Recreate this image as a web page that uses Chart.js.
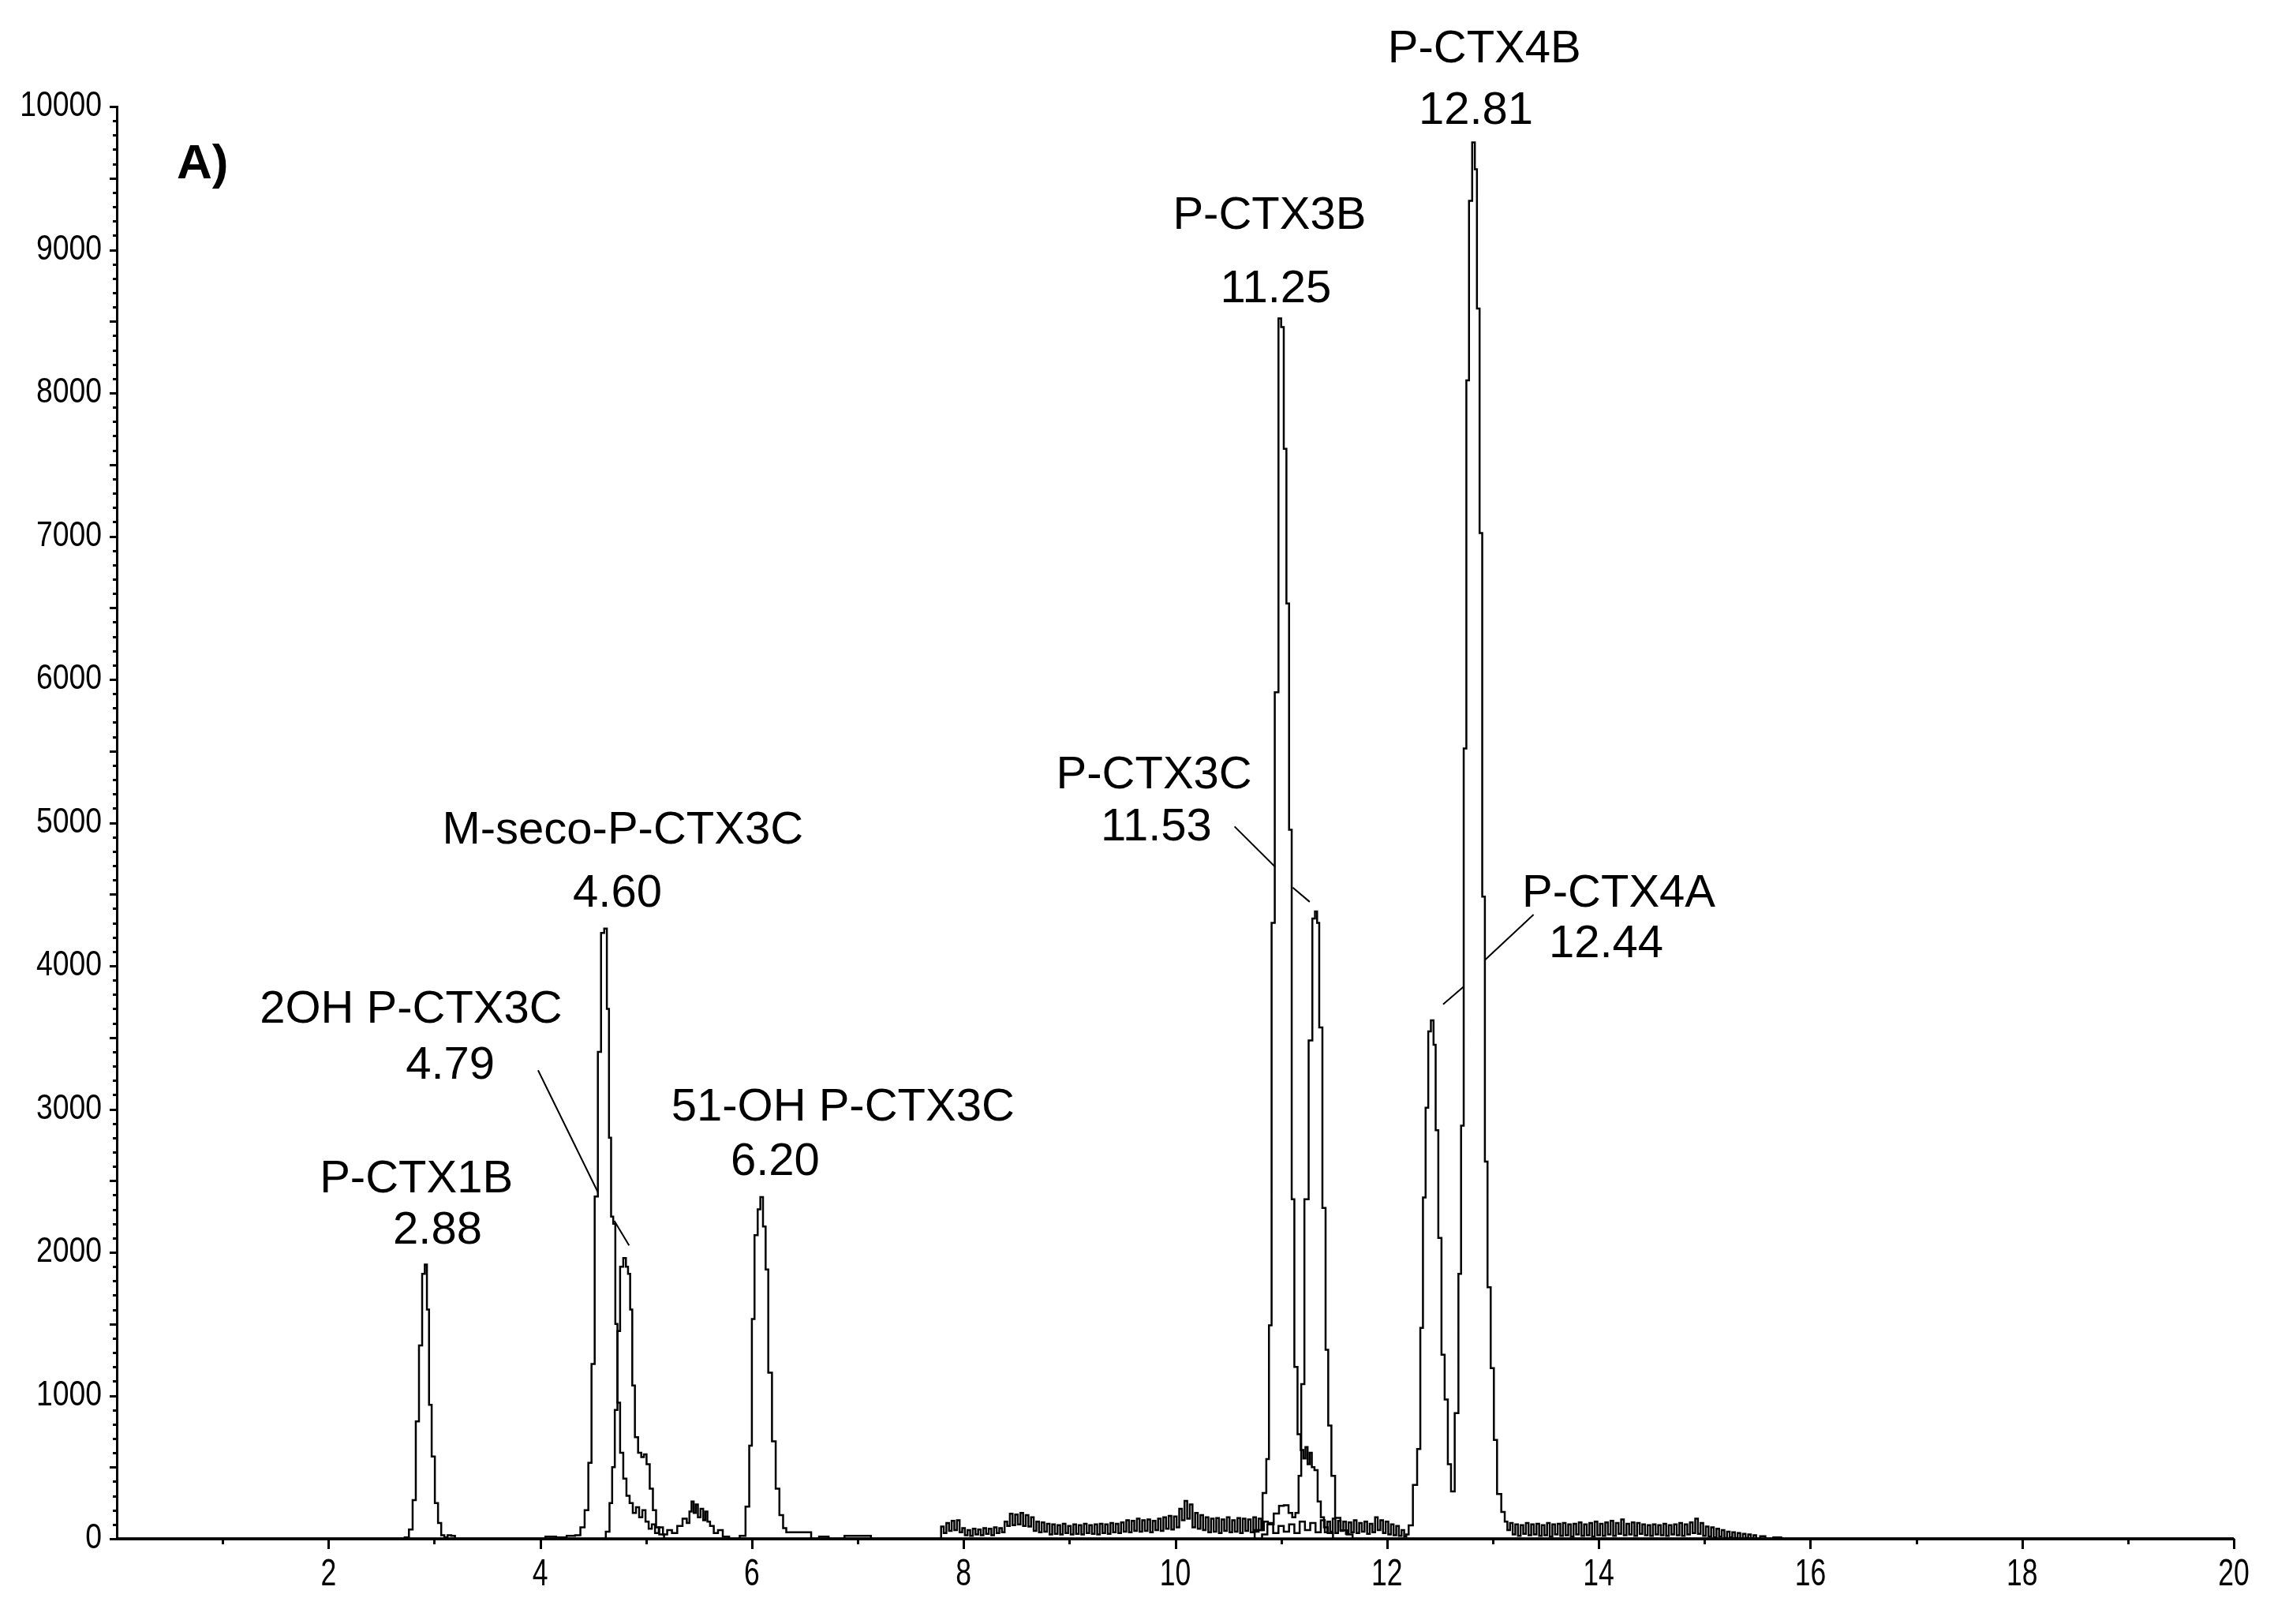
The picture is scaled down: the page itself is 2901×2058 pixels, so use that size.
<!DOCTYPE html>
<html>
<head>
<meta charset="utf-8">
<script src="https://cdn.jsdelivr.net/npm/chart.js@4.4.1/dist/chart.umd.min.js"></script>
<style>
  html, body { margin: 0; padding: 0; background: #fff; }
  #wrap { width: 2901px; height: 2058px; }
</style>
</head>
<body>
<div id="wrap"><canvas id="chrom"></canvas></div>
<script>
// [retention time (min), intensity], one trace per transition
const ctx1bTrace = [[0,0],[2.70,0],[2.74,10],[2.78,65],[2.81,270],[2.84,820],[2.87,1350],[2.90,1850],[2.92,1915],[2.94,1600],[2.96,935],[2.99,575],[3.02,250],[3.05,110],[3.08,25],[3.11,10],[3.14,25],[3.18,20],[3.21,0],[20,0]];

const msecoTrace = [[0,0],[4.00,0],[4.10,15],[4.20,10],[4.30,20],[4.36,25],[4.40,80],[4.44,200],[4.47,530],[4.50,1220],[4.53,2390],[4.56,3400],[4.59,4230],[4.62,4260],[4.64,3700],[4.66,2800],[4.68,2250],[4.70,2200],[4.72,1500],[4.74,950],[4.77,600],[4.80,420],[4.83,300],[4.86,250],[4.89,180],[4.92,220],[4.95,150],[4.98,200],[5.01,120],[5.04,70],[5.07,100],[5.10,40],[5.14,80],[5.18,30],[5.22,60],[5.27,40],[5.32,90],[5.37,140],[5.40,110],[5.42,190],[5.44,260],[5.46,180],[5.48,240],[5.50,150],[5.53,210],[5.55,130],[5.57,190],[5.59,120],[5.62,90],[5.66,40],[5.70,60],[5.75,15],[5.82,0],[20,0]];

const ohTrace = [[0,0],[4.60,0],[4.64,50],[4.67,250],[4.69,500],[4.72,900],[4.74,1450],[4.77,1900],[4.80,1960],[4.82,1900],[4.84,1850],[4.86,1600],[4.88,1070],[4.91,710],[4.94,600],[4.97,570],[4.99,590],[5.02,520],[5.05,350],[5.08,200],[5.11,80],[5.14,30],[5.20,0],[20,0]];

const oh51Trace = [[0,0],[5.85,0],[5.92,20],[5.96,225],[5.99,650],[6.01,1535],[6.04,2120],[6.07,2300],[6.09,2385],[6.12,2180],[6.14,1880],[6.17,1160],[6.21,680],[6.24,350],[6.28,165],[6.31,75],[6.34,45],[6.55,45],[6.57,0],[6.70,15],[6.75,0],[7.00,20],[7.10,20],[7.15,0],[20,0]];

const ctx3bTrace = [[0,0],[10.70,0],[10.80,60],[10.85,320],[10.87,556],[10.90,1490],[10.92,4300],[10.96,5910],[10.99,8520],[11.01,8460],[11.04,7610],[11.06,6530],[11.09,4950],[11.11,2370],[11.14,1200],[11.17,730],[11.20,620],[11.22,560],[11.24,640],[11.26,520],[11.28,600],[11.30,500],[11.33,480],[11.36,260],[11.39,150],[11.42,80],[11.46,40],[11.52,0],[20,0]];

const ctx3cTrace = [[0,0],[10.80,0],[10.84,30],[10.90,100],[10.96,176],[11.00,230],[11.05,234],[11.09,180],[11.12,150],[11.15,180],[11.18,440],[11.20,1080],[11.24,2370],[11.28,3480],[11.31,4330],[11.33,4380],[11.35,4300],[11.37,3570],[11.41,2310],[11.43,1320],[11.46,790],[11.49,440],[11.53,146],[11.59,59],[11.65,30],[11.70,0],[20,0]];

// P-CTX4A/4B transition, with its noisy baseline
const ctx4Trace = [[0,0],[7.75,0],[7.775,0],[7.80,85],[7.825,40],[7.85,110],[7.875,55],[7.90,125],[7.925,60],[7.95,130],[7.975,45],
  [8.00,75],[8.025,25],[8.05,60],[8.075,20],[8.10,70],[8.125,30],[8.15,65],[8.175,25],[8.20,75],[8.225,35],[8.25,70],[8.275,25],[8.30,80],[8.325,40],[8.35,75],[8.375,45],
  [8.40,120],[8.425,90],[8.45,175],[8.475,95],[8.50,170],[8.525,100],[8.55,180],[8.575,90],[8.60,165],[8.625,85],[8.65,150],[8.675,55],[8.70,120],[8.725,45],[8.75,115],[8.775,50],
  [8.80,105],[8.825,30],[8.85,100],[8.875,35],[8.90,95],[8.925,30],[8.95,105],[8.975,40],[9.00,90],[9.025,30],[9.05,100],[9.075,35],[9.10,95],[9.125,30],[9.15,105],[9.175,40],
  [9.20,95],[9.225,35],[9.25,100],[9.275,30],[9.30,105],[9.325,40],[9.35,100],[9.375,35],[9.40,110],[9.425,45],[9.45,105],[9.475,40],[9.50,115],[9.525,50],[9.55,130],[9.575,45],
  [9.60,125],[9.625,55],[9.65,140],[9.675,50],[9.70,130],[9.725,55],[9.75,135],[9.775,45],[9.80,125],[9.825,60],[9.85,140],[9.875,55],[9.90,150],[9.925,70],[9.95,160],[9.975,65],
  [10.00,155],[10.025,80],[10.05,210],[10.075,130],[10.10,265],[10.125,140],[10.15,240],[10.175,80],[10.20,180],[10.225,70],[10.25,165],[10.275,60],[10.30,150],[10.325,45],[10.35,140],[10.375,50],
  [10.40,145],[10.425,40],[10.45,135],[10.475,55],[10.50,150],[10.525,45],[10.55,130],[10.575,50],[10.60,145],[10.625,40],[10.65,140],[10.675,55],[10.70,135],[10.725,45],[10.75,150],[10.775,50],
  [10.80,140],[10.825,60],[10.85,120],[10.90,110],[10.95,40],[11.00,90],[11.05,50],[11.10,100],[11.15,40],[11.20,120],[11.25,60],[11.30,110],[11.35,45],
  [11.40,130],[11.425,45],[11.45,120],[11.475,50],[11.50,140],[11.525,40],[11.55,125],[11.575,55],[11.60,120],[11.625,35],[11.65,115],[11.675,45],[11.70,130],[11.725,40],[11.75,110],[11.775,50],
  [11.80,120],[11.825,35],[11.85,105],[11.875,45],[11.90,150],[11.925,60],[11.95,130],[11.975,40],[12.00,120],[12.025,30],[12.05,100],[12.075,25],[12.10,90],[12.125,20],[12.15,60],[12.175,15],
  [12.19,30],[12.22,94],[12.27,376],[12.30,627],[12.33,1473],[12.35,2383],[12.38,3010],[12.40,3543],[12.43,3620],[12.45,3449],[12.47,2853],[12.50,2100],[12.53,1285],[12.56,972],[12.59,520],[12.62,330],
  [12.66,878],[12.69,1850],[12.71,2884],[12.74,5518],[12.76,8088],[12.79,9342],[12.82,9750],[12.84,9562],[12.86,8590],[12.89,7022],[12.91,4483],[12.94,2633],[12.96,1756],[13.00,1191],[13.02,690],[13.06,313],[13.10,188],
  [13.125,120],[13.15,60],[13.175,110],[13.20,30],[13.225,100],[13.25,20],[13.275,95],[13.30,35],[13.325,110],[13.35,25],[13.375,100],[13.40,30],[13.425,105],[13.45,20],[13.475,95],[13.50,25],
  [13.525,110],[13.55,15],[13.575,100],[13.60,30],[13.625,105],[13.65,20],[13.675,110],[13.70,25],[13.725,100],[13.75,15],[13.775,105],[13.80,30],[13.825,115],[13.85,20],[13.875,100],[13.90,25],
  [13.925,110],[13.95,15],[13.975,120],[14.00,25],[14.025,105],[14.05,20],[14.075,115],[14.10,30],[14.125,125],[14.15,20],[14.175,110],[14.20,35],[14.225,135],[14.25,25],[14.275,105],[14.30,30],
  [14.325,115],[14.35,20],[14.375,110],[14.40,35],[14.425,100],[14.45,25],[14.475,95],[14.50,20],[14.525,100],[14.55,30],[14.575,95],[14.60,25],[14.625,105],[14.65,20],[14.675,95],[14.70,30],
  [14.725,100],[14.75,25],[14.775,110],[14.80,20],[14.825,100],[14.85,30],[14.875,115],[14.90,40],[14.925,140],[14.95,35],[14.975,110],[15.00,20],[15.025,85],[15.05,15],[15.075,80],[15.10,10],
  [15.125,70],[15.15,15],[15.175,60],[15.20,5],[15.225,50],[15.25,10],[15.275,45],[15.30,5],[15.325,40],[15.35,0],[15.375,35],[15.40,5],[15.425,30],[15.45,0],[15.475,25],[15.50,0],
  [15.55,18],[15.60,0],[15.70,10],[15.75,0],[20,0]];

// peak annotations
const peakNames = ["P-CTX1B", "2OH P-CTX3C", "M-seco-P-CTX3C", "51-OH P-CTX3C", "P-CTX3B", "P-CTX3C", "P-CTX4A", "P-CTX4B"];
const peakRts = ["2.88", "4.79", "4.60", "6.20", "11.25", "11.53", "12.44", "12.81"];

const yTickLabels = [0, 1000, 2000, 3000, 4000, 5000, 6000, 7000, 8000, 9000, 10000];
const xTickLabels = [2, 4, 6, 8, 10, 12, 14, 16, 18, 20];

// where the labels sit, in axis units: [name x, name y, rt x, rt y]
const labelAt = [
  [2.83, 2507, 3.03, 2150],
  [2.78, 3689, 3.15, 3302],
  [4.78, 4942, 4.73, 4504],
  [6.86, 3006, 6.22, 2629],
  [10.89, 9232, 10.95, 8723],
  [9.80, 5329, 9.82, 4963],
  [14.19, 4504, 14.07, 4147],
  [12.92, 10394, 12.84, 9966]
];
// leader lines, broken where they cross a trace
const leaders = [
  [[3.98, 3271], [4.545, 2420]], [[4.70, 2221], [4.84, 2048]],
  [[10.56, 4973], [10.945, 4690]], [[11.11, 4547], [11.27, 4447]],
  [[13.385, 4358], [12.93, 4044]], [[12.725, 3856], [12.53, 3731]]
];

const sans = "'Liberation Sans', Arial, sans-serif";

const overlay = {
  id: "overlay",
  afterDraw(chart) {
    const { ctx, scales: { x, y } } = chart;
    ctx.save();
    ctx.strokeStyle = "#000";
    ctx.lineWidth = 3;
    ctx.beginPath();
    // y ticks: every 100, longer at 500/1000
    for (let v = 0; v <= 10000; v += 100) {
      const py = Math.round(y.getPixelForValue(v)) + 0.5;
      const len = v % 500 === 0 ? 9 : 5;
      ctx.moveTo(x.left - len, py);
      ctx.lineTo(x.left, py);
    }
    // x ticks: every minute, longer at even ones
    for (let t = 1; t <= 20; t++) {
      const px = Math.round(x.getPixelForValue(t)) + 0.5;
      const len = t % 2 === 0 ? 13 : 7;
      ctx.moveTo(px, y.bottom);
      ctx.lineTo(px, y.bottom + len);
    }
    ctx.stroke();

    // condensed tick labels
    ctx.fillStyle = "#000";
    ctx.textBaseline = "middle";
    ctx.textAlign = "right";
    ctx.font = "45px " + sans;
    yTickLabels.forEach((v) => {
      ctx.save();
      ctx.translate(x.left - 19, y.getPixelForValue(v));
      ctx.scale(0.83, 1);
      ctx.fillText(String(v), 0, 0);
      ctx.restore();
    });
    ctx.textAlign = "center";
    ctx.font = "48px " + sans;
    xTickLabels.forEach((t) => {
      ctx.save();
      ctx.translate(x.getPixelForValue(t), y.bottom + 46);
      ctx.scale(0.74, 1);
      ctx.fillText(String(t), 0, 0);
      ctx.restore();
    });

    ctx.lineWidth = 2;
    ctx.beginPath();
    leaders.forEach(([a, b]) => {
      ctx.moveTo(x.getPixelForValue(a[0]), y.getPixelForValue(a[1]));
      ctx.lineTo(x.getPixelForValue(b[0]), y.getPixelForValue(b[1]));
    });
    ctx.stroke();

    ctx.font = "58px " + sans;
    peakNames.forEach((name, i) => {
      const p = labelAt[i];
      ctx.fillText(name, x.getPixelForValue(p[0]), y.getPixelForValue(p[1]));
      ctx.fillText(peakRts[i], x.getPixelForValue(p[2]), y.getPixelForValue(p[3]));
    });
    ctx.font = "bold 62px " + sans;
    ctx.fillText("A)", x.getPixelForValue(0.81), y.getPixelForValue(9592));
    ctx.restore();
  }
};

const traces = [ctx1bTrace, msecoTrace, ohTrace, oh51Trace, ctx3bTrace, ctx3cTrace, ctx4Trace];

new Chart(document.getElementById("chrom"), {
  type: "line",
  data: {
    datasets: traces.map((tr) => ({
      data: tr.map(([t, v]) => ({ x: t, y: v })),
      borderColor: "#000",
      borderWidth: 2.5,
      pointRadius: 0,
      stepped: "middle",
      fill: false,
    })),
  },
  options: {
    responsive: true,
    maintainAspectRatio: false,
    animation: false,
    layout: { padding: { top: 135, right: 70, left: 0, bottom: 0 } },
    plugins: { legend: { display: false }, tooltip: { enabled: false } },
    scales: {
      x: {
        type: "linear", min: 0, max: 20,
        afterFit: (s) => { s.height = 108; },
        grid: { display: false },
        border: { display: true, color: "#000", width: 3 },
        ticks: { display: false, stepSize: 2 },
      },
      y: {
        min: 0, max: 10000,
        afterFit: (s) => { s.width = 148; },
        grid: { display: false },
        border: { display: true, color: "#000", width: 3 },
        ticks: { display: false, stepSize: 1000 },
      },
    },
  },
  plugins: [overlay],
});
</script>
</body>
</html>
